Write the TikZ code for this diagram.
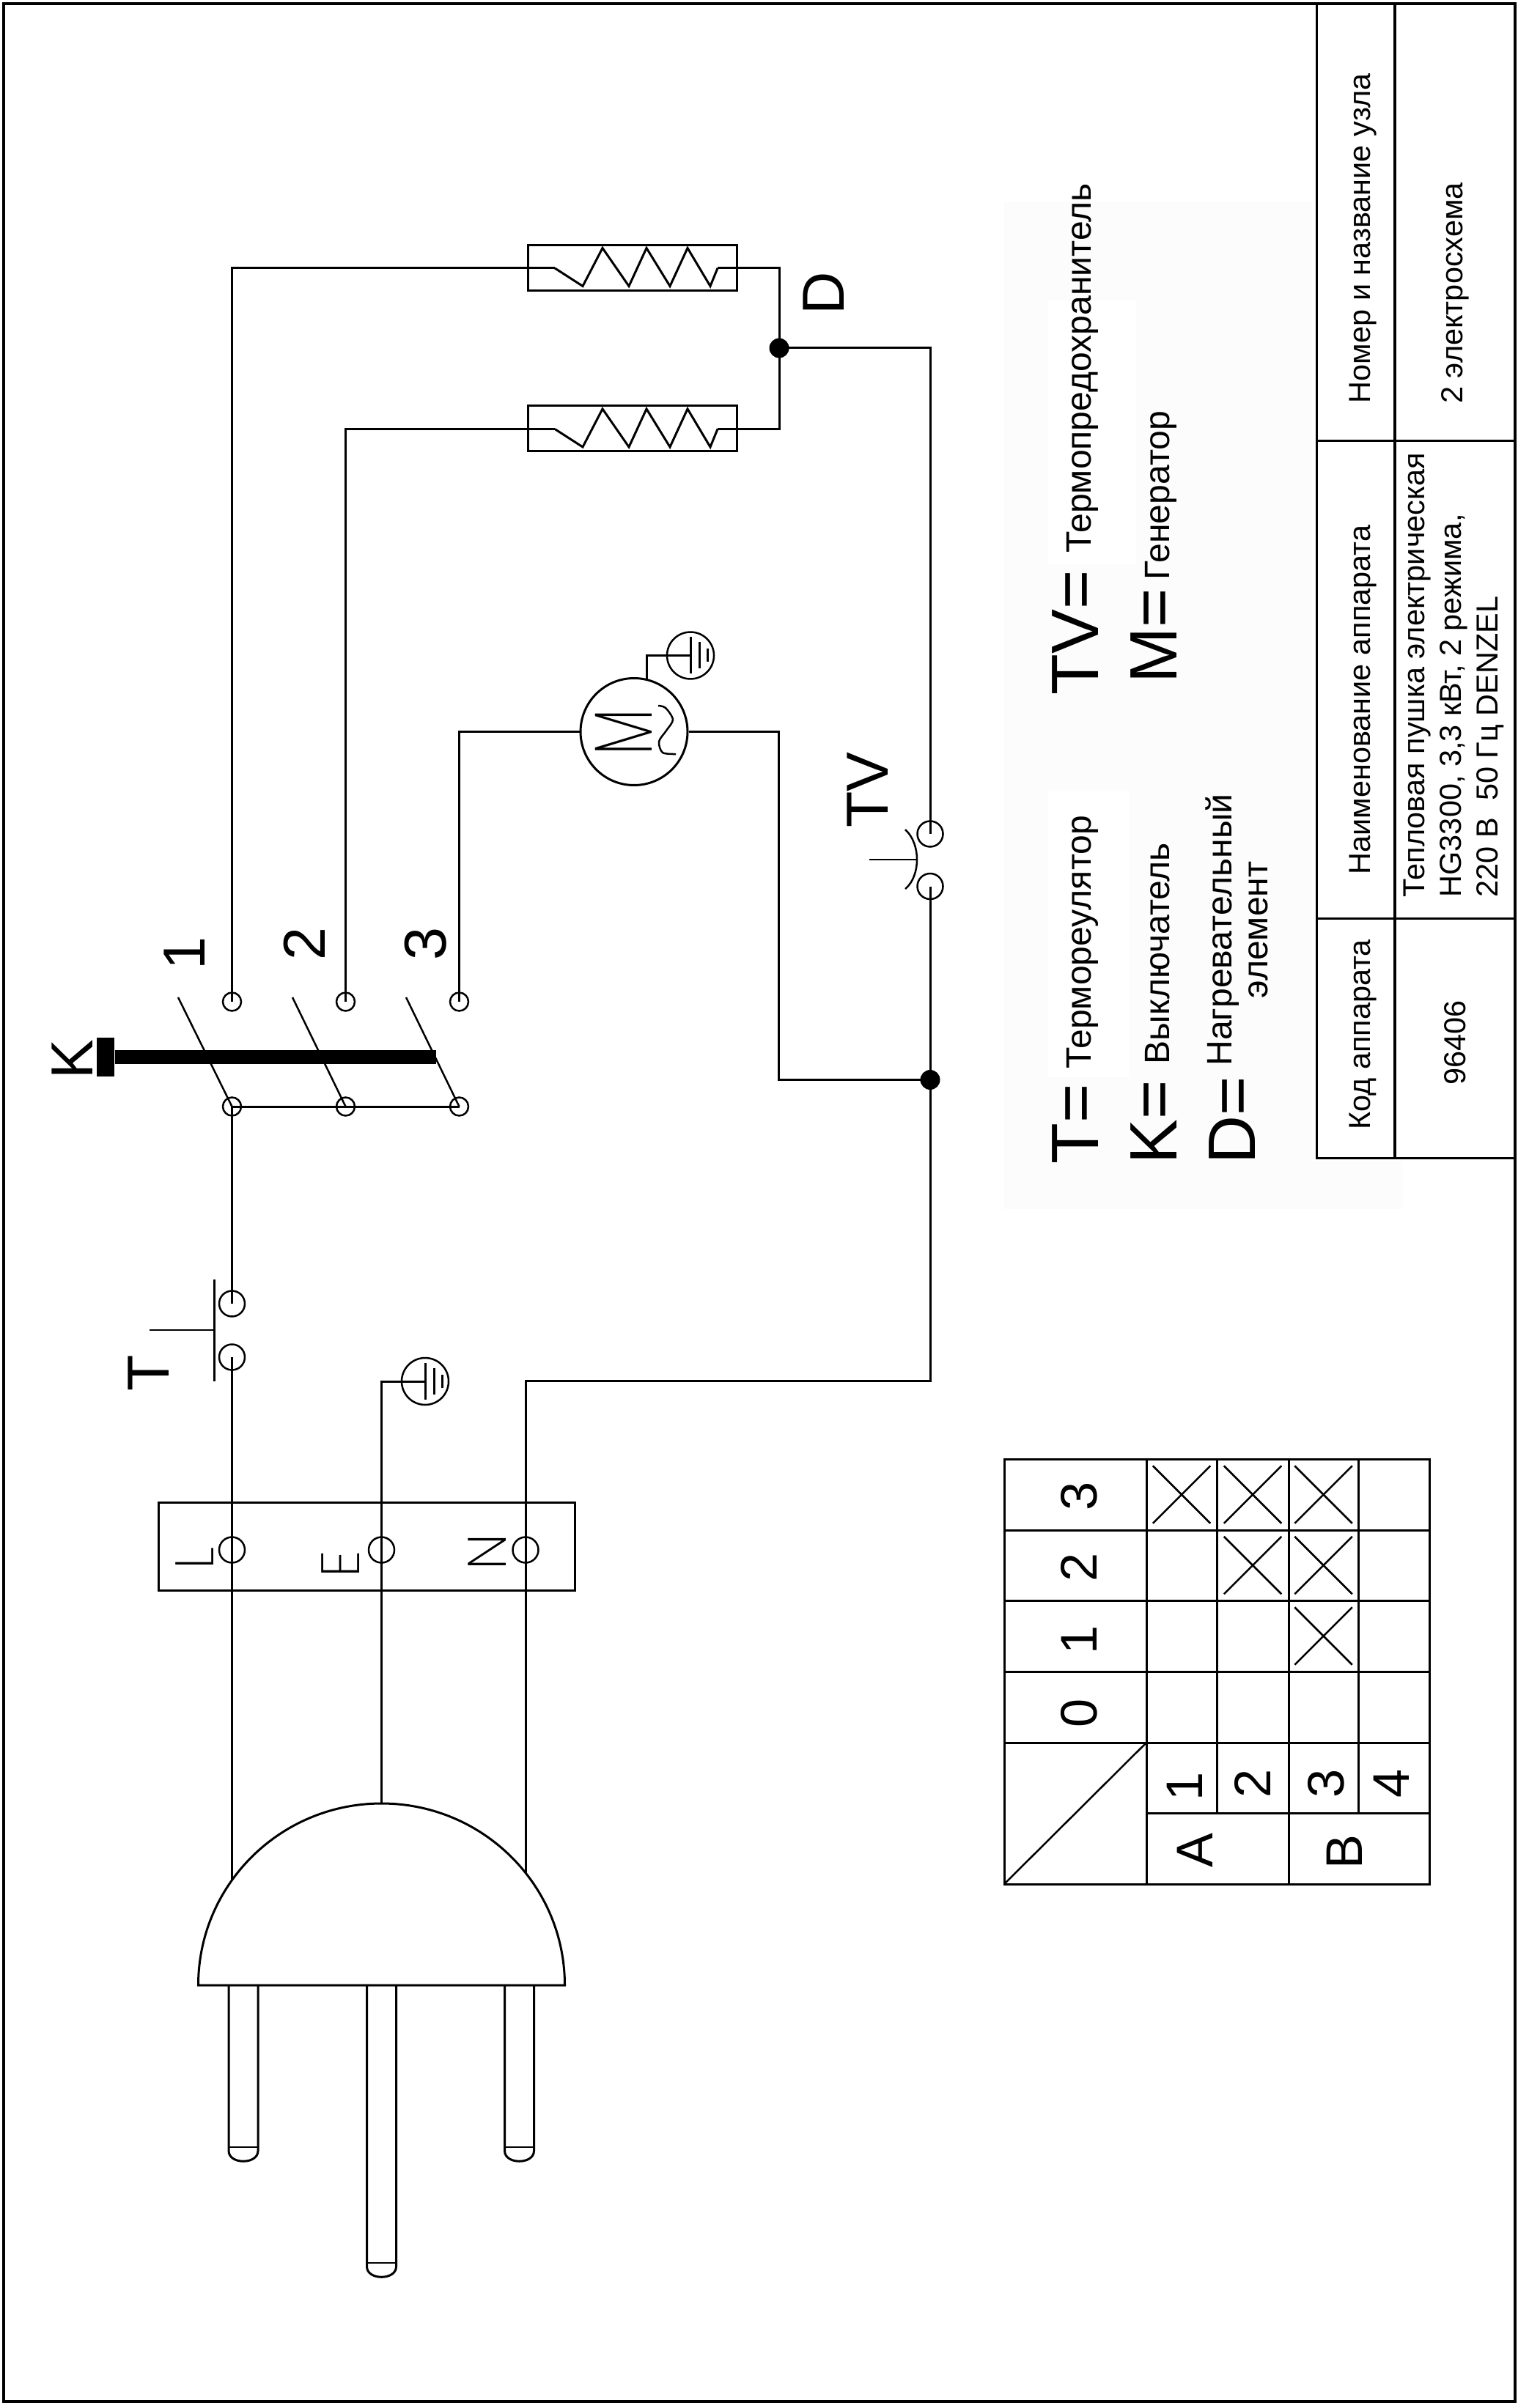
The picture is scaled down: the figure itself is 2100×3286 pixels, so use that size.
\documentclass[tikz,border=0pt]{standalone}
\usepackage{fontspec}
\setmainfont{Liberation Sans}
\newfontfamily\thinfont{Poppins ExtraLight}
\usetikzlibrary{shapes, positioning}
\definecolor{patch}{HTML}{FCFCFC}

\tikzset{
	wire/.style={line width=0.3mm},
	thinwire/.style={line width=0.25mm},
	tableline/.style={line width=0.3mm},
	frameline/.style={line width=0.4mm},
	contact/.style={circle,draw,line width=0.25mm,inner sep=0,minimum size=2.5mm},
	bigcontact/.style={contact,minimum size=3.5mm},
	junction/.style={circle,fill=black,inner sep=0,minimum size=2.7mm},
	earthring/.style={circle,draw,line width=0.25mm,inner sep=0,minimum size=6.4mm},
	cross/.style={cross out,draw,line width=0.25mm,inner sep=0,minimum size=7.6mm},
	tag/.style={rotate=90,anchor=base,inner sep=0,font=\fontsize{23}{27}\selectfont},
	thintag/.style={rotate=90,anchor=base,inner sep=0,font=\thinfont\fontsize{21}{24}\selectfont},
	cell/.style={rotate=90,anchor=base,inner sep=0,font=\fontsize{20}{23}\selectfont},
	legendkey/.style={rotate=90,anchor=base west,inner sep=0,font=\fontsize{26}{30}\selectfont},
	legendtext/.style={rotate=90,anchor=base west,inner sep=0,font=\fontsize{13.7}{14}\selectfont},
	blocktext/.style={rotate=90,anchor=center,inner sep=0,align=left,font=\fontsize{11.8}{14.2}\selectfont},
	heater/.pic={
		\node[draw,wire,inner sep=0,minimum width=28.5mm,minimum height=6.2mm] (-box) at (0,0) {};
		\coordinate (-in) at (-105.5,0.5);
		\coordinate (-out) at (116.5,0.5);
		\draw[wire] (-in) -- (-67.5,25) -- (-40.5,-27) -- (-4.5,25) -- (19.5,-27) -- (51.5,25) -- (75.5,-27) -- (106.5,25) -- (-out);
	},
	earth/.pic={
		\node[earthring] (-ring) at (0,0) {};
		\draw[wire] (0,-25) -- (0,25);
		\draw[wire] (12,-18) -- (12,18);
		\draw[wire] (23,-9) -- (23,9);
	},
	pin/.pic={
		\draw[wire] (-20,0) -- (-20,#1) .. controls (-20,#1+19) and (20,#1+19) .. (20,#1) -- (20,0);
		\draw[thinwire] (-20,#1-5) -- (20,#1-5);
	}
}

\begin{document}
\begin{tikzpicture}[x=0.1mm,y=-0.1mm]
	\useasboundingbox (0,0) rectangle (2100,3286);
	\fill[patch] (1370,275) rectangle (1790,1650);
	\fill[patch] (1790,1585) rectangle (1913,1650);
	\fill[white] (1430,1080) rectangle (1540,1470);
	\fill[white] (1430,410) rectangle (1550,770);

	\draw[frameline] (5,5) rectangle (2067,3277);
	\draw[tableline] (1796,5) -- (1796,1580) -- (2067,1580);
	\draw[frameline] (1903,5) -- (1903,1580);
	\draw[tableline] (1796,602) -- (2067,602);
	\draw[tableline] (1796,1253) -- (2067,1253);
	\node[blocktext] (numhead) at (1860,325) {Номер и название узла};
	\node[blocktext] (numval) at (1985,400) {2 электросхема};
	\node[blocktext] (namehead) at (1860,955) {Наименование аппарата};
	\node[blocktext,anchor=west] (nameval) at (1983,1225) {Тепловая пушка электрическая\\HG3300, 3,3 кВт, 2 режима,\\220 В\ \ 50 Гц DENZEL};
	\node[blocktext] (codehead) at (1860,1412) {Код аппарата};
	\node[blocktext] (codeval) at (1985,1423) {96406};

	\node[legendkey] (keyt) at (1498,1589) {T=};
	\node[legendtext] (textt) at (1488,1459) {Термореулятор};
	\node[legendkey] (keyk) at (1605,1589) {K=};
	\node[legendtext] (textk) at (1595,1453) {Выключатель};
	\node[legendkey] (keyd) at (1712,1589) {D=};
	\node[rotate=90,inner sep=0,align=center,font=\fontsize{13.7}{14}\selectfont] (textd) at (1687,1269) {Нагревательный\\элемент};
	\node[legendkey] (keytv) at (1498,949) {TV=};
	\node[legendtext] (texttv) at (1488,755) {Термопредохранитель};
	\node[legendkey] (keym) at (1605,933) {M=};
	\node[legendtext] (textm) at (1595,792) {Генератор};

	\pic (hone) at (862.5,365.5) {heater};
	\pic (htwo) at (862.5,585) {heater};
	\node[junction] (jd) at (1063,475) {};
	\node[junction] (jb) at (1269,1473.5) {};
	\node[tag] (labd) at (1151,400) {D};
	\draw[wire] (hone-out) -| (jd.center);
	\draw[wire] (htwo-out) -| (jd.center);

	\node[circle,draw,wire,inner sep=0,minimum size=14.6mm] (motor) at (865,998.5) {};
	\node[thintag] (labm) at (889,999.5) {\scalebox{0.68}[1]{\fontsize{32}{34}\selectfont M}};
	\draw[thinwire] plot[smooth] coordinates {(898,963) (908,966) (918,982) (909,997) (899,1012) (904,1027) (922,1029)};
	\pic (gndm) at (942,894.5) {earth};
	\coordinate (gm) at (882,928);
	\draw[wire] (gm) |- (gndm-ring.center);
	\coordinate (mc) at (1062,998.5);

	\node[contact] (kaone) at (316.5,1367) {};
	\node[contact] (katwo) at (471.5,1367) {};
	\node[contact] (kathree) at (626.5,1367) {};
	\node[contact] (kbone) at (316.5,1510) {};
	\node[contact] (kbtwo) at (471.5,1510) {};
	\node[contact] (kbthree) at (626.5,1510) {};
	\coordinate (bladeone) at (243,1361);
	\coordinate (bladetwo) at (399,1361);
	\coordinate (bladethree) at (554,1361);
	\node[fill=black,inner sep=0,minimum width=2.4mm,minimum height=5.3mm] (kcap) at (144,1442.5) {};
	\coordinate (kend) at (595,1442.5);
	\node[tag] (labk) at (126,1446) {K};
	\node[tag] (labone) at (279,1301) {1};
	\node[tag] (labtwo) at (443,1288) {2};
	\node[tag] (labthree) at (608,1288) {3};

	\draw[wire] (hone-in) -| (kaone.center);
	\draw[wire] (htwo-in) -| (katwo.center);
	\draw[wire] (motor.west) -| (kathree.center);
	\draw[wire] (motor.east) -- (mc) |- (jb.center);
	\draw[thinwire] (kbone.center) -- (bladeone);
	\draw[thinwire] (kbtwo.center) -- (bladetwo);
	\draw[thinwire] (kbthree.center) -- (bladethree);
	\draw[wire] (kbone.center) -- (kbthree.center);
	\draw[line width=1.9mm] (kcap.east) -- (kend);

	\node[bigcontact] (tvone) at (1269,1138) {};
	\node[bigcontact] (tvtwo) at (1269,1209.5) {};
	\coordinate (tva) at (1235,1132);
	\coordinate (tvb) at (1251,1173);
	\coordinate (tvc) at (1235,1213);
	\coordinate (tvs) at (1186,1173);
	\draw[thinwire] (tva) .. controls (1246,1142) and (1251,1158) .. (tvb) .. controls (1251,1188) and (1246,1204) .. (tvc);
	\draw[thinwire] (tvs) -- (tvb);
	\node[tag] (labtv) at (1211,1078) {TV};
	\draw[wire] (jd.center) -| (tvone.center);
	\draw[wire] (tvtwo.center) -- (jb.center);

	\node[bigcontact] (tone) at (316.5,1779) {};
	\node[bigcontact] (ttwo) at (316.5,1852) {};
	\coordinate (tbara) at (292,1746);
	\coordinate (tbarb) at (292,1885);
	\coordinate (tbarc) at (292,1815);
	\coordinate (tstem) at (204,1815);
	\draw[wire] (tbara) -- (tbarb);
	\draw[thinwire] (tstem) -- (tbarc);
	\node[tag] (labt) at (230,1874) {T};
	\draw[wire] (kbone.center) -- (tone.center);

	\pic (gndp) at (580,1885) {earth};

	\node[draw,wire,inner sep=0,minimum width=56.8mm,minimum height=12mm] (block) at (500,2110) {};
	\node[bigcontact] (bl) at (316.5,2115) {};
	\node[bigcontact] (be) at (520.5,2115) {};
	\node[bigcontact] (bn) at (717,2115) {};
	\node[thintag] (labl) at (291.5,2126) {L};
	\node[thintag] (labe) at (490,2134) {E};
	\node[thintag] (labn) at (690,2118) {N};

	\coordinate (plugl) at (270.5,2709);
	\coordinate (plugr) at (770.5,2709);
	\coordinate (plugtop) at (520.5,2461);
	\coordinate (wirel) at (316.5,2565);
	\coordinate (wiren) at (717,2555);
	\coordinate (nc) at (717,1884);
	\draw[wire] (plugl) .. controls (270.5,2572) and (382.5,2461) .. (plugtop) .. controls (658.5,2461) and (770.5,2572) .. (plugr) -- cycle;
	\draw[wire] (ttwo.center) -- (bl.center) -- (wirel);
	\draw[wire] (gndp-ring.center) -| (be.center) -- (plugtop);
	\draw[wire] (jb.center) |- (nc) -- (bn.center) -- (wiren);
	\pic at (332,2709) {pin={226}};
	\pic at (520.5,2709) {pin={384}};
	\pic at (708.5,2709) {pin={226}};

	\draw[tableline] (1370,1991) rectangle (1950,2571);
	\draw[tableline] (1564,1991) -- (1564,2571);
	\draw[tableline] (1660,1991) -- (1660,2474);
	\draw[tableline] (1758,1991) -- (1758,2571);
	\draw[tableline] (1853,1991) -- (1853,2474);
	\draw[tableline] (1370,2088) -- (1950,2088);
	\draw[tableline] (1370,2184) -- (1950,2184);
	\draw[tableline] (1370,2281) -- (1950,2281);
	\draw[tableline] (1370,2378) -- (1950,2378);
	\draw[tableline] (1564,2474) -- (1950,2474);
	\draw[thinwire] (1564,2378) -- (1370,2571);
	\node[cross] (xthreea) at (1612,2039.5) {};
	\node[cross] (xthreeb) at (1709,2039.5) {};
	\node[cross] (xthreec) at (1805.5,2039.5) {};
	\node[cross] (xtwob) at (1709,2136) {};
	\node[cross] (xtwoc) at (1805.5,2136) {};
	\node[cross] (xonec) at (1805.5,2232.5) {};
	\node[cell] (rowthree) at (1496,2041.5) {3};
	\node[cell] (rowtwo) at (1496,2139) {2};
	\node[cell] (rowone) at (1496,2238) {1};
	\node[cell] (rowzero) at (1496,2338) {0};
	\node[cell] (colone) at (1640,2438) {1};
	\node[cell] (coltwo) at (1733,2434) {2};
	\node[cell] (colthree) at (1833,2434) {3};
	\node[cell] (colfour) at (1922,2434) {4};
	\node[cell] (cola) at (1654,2525) {A};
	\node[cell] (colb) at (1858,2527) {B};
\end{tikzpicture}
\end{document}
